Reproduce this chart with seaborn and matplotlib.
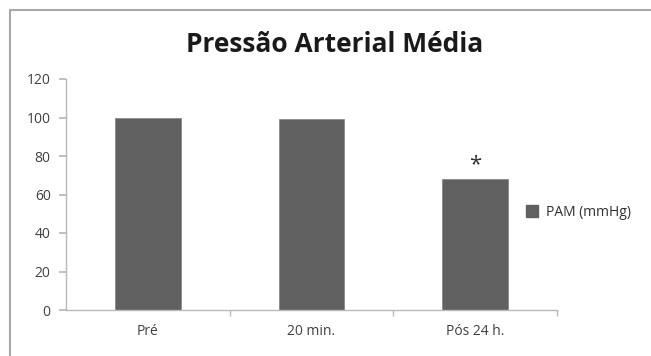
import matplotlib
matplotlib.use("Agg")
import matplotlib.pyplot as plt
import seaborn as sns
import pandas as pd
from matplotlib.lines import Line2D

categories = ["Pré", "20 min.", "Pós 24 h."]
pam_values = [100, 99, 68]
significant = [False, False, True]
series_name = "PAM (mmHg)"
y_ticks = [0, 20, 40, 60, 80, 100, 120]

df = pd.DataFrame({"momento": categories, "pam": pam_values})

sns.set_theme(style="white")
plt.rcParams["font.family"] = ["Open Sans", "DejaVu Sans"]

fig = plt.figure(figsize=(6.51, 3.56), dpi=100)
ax = fig.add_axes([66 / 651, 1 - 310 / 356, 491 / 651, 231 / 356])

bar_color = "#606060"
sns.barplot(data=df, x="momento", y="pam", color=bar_color, width=0.4,
            saturation=1, edgecolor="#8a8a8a", linewidth=0.6, ax=ax)

for i, (v, sig) in enumerate(zip(pam_values, significant)):
    if sig:
        ax.text(i, v + 2, "*", ha="center", va="bottom", fontsize=16,
                color="#303030")

ax.set_ylim(0, 120)
ax.set_xlim(-0.5, 2.5)
ax.set_yticks(y_ticks)
ax.set_xticks([0.5, 1.5, 2.5], minor=True)
ax.set_xlabel("")
ax.set_ylabel("")
for s in ["top", "right"]:
    ax.spines[s].set_visible(False)
for s in ["left", "bottom"]:
    ax.spines[s].set_color("#b8b8b8")
    ax.spines[s].set_linewidth(1.0)
ax.tick_params(axis="y", length=5, color="#b8b8b8", labelsize=10,
               labelcolor="#404040", pad=6, left=True)
ax.tick_params(axis="x", which="major", length=0, labelsize=10,
               labelcolor="#404040", pad=10)
ax.tick_params(axis="x", which="minor", length=4, color="#b8b8b8",
               bottom=True)

fig.text(335 / 651, 1 - 45 / 356, "Pressão Arterial Média", ha="center",
         va="center", fontsize=19, fontweight="bold", color="#1a1a1a")

handle = Line2D([], [], marker="s", linestyle="", markersize=8,
                markerfacecolor=bar_color, markeredgecolor=bar_color)
fig.legend([handle], [series_name], loc="center left",
           bbox_to_anchor=(513 / 651, 1 - 212 / 356), frameon=False,
           fontsize=10, handletextpad=0.0, borderaxespad=0,
           labelcolor="#303030")

# partial frame: top and left edges of the chart area
fig.add_artist(Line2D([10 / 651, 10 / 651], [0, 1 - 10 / 356],
                      transform=fig.transFigure, color="#a8a8a8", lw=1.5))
fig.add_artist(Line2D([10 / 651, 1], [1 - 10 / 356, 1 - 10 / 356],
                      transform=fig.transFigure, color="#a8a8a8", lw=1.5))

fig.savefig("out.png", dpi=100)
